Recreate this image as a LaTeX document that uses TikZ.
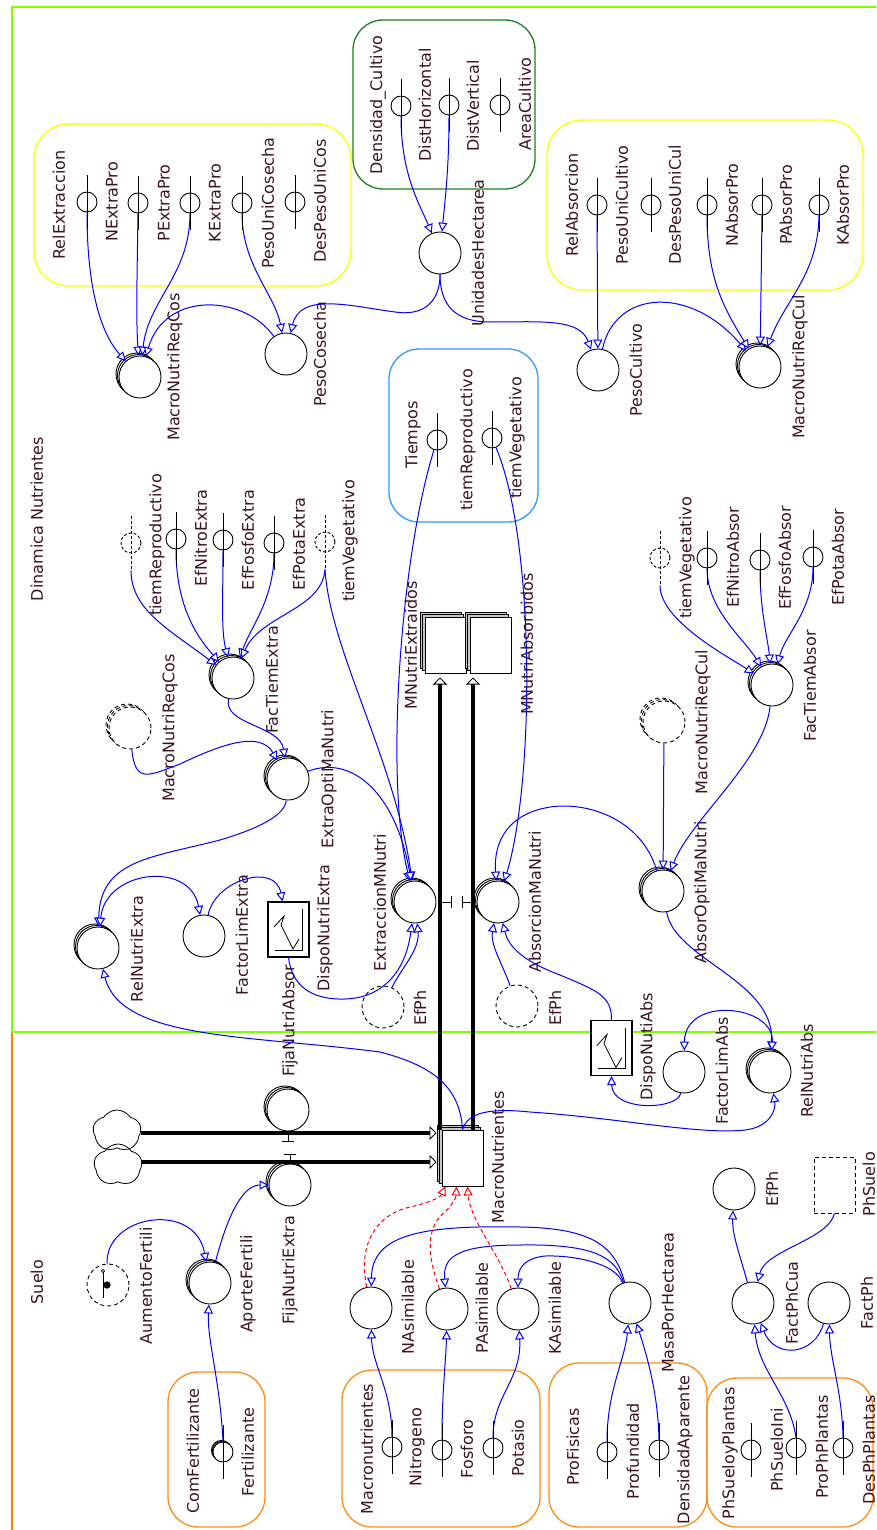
\documentclass[tikz,border=0pt]{standalone}
\usepackage{fontspec}
\setmainfont{DejaVu Sans}
\usetikzlibrary{arrows.meta,shapes.symbols,shadows,calc}

\definecolor{sectorgreen}{RGB}{128,255,0}
\definecolor{sectororange}{RGB}{255,128,0}
\definecolor{grpyellow}{RGB}{255,255,0}
\definecolor{grpgreen}{RGB}{30,130,30}
\definecolor{grpblue}{RGB}{51,153,255}
\definecolor{grporange}{RGB}{255,140,20}
\definecolor{txt}{RGB}{60,20,35}
\definecolor{linkblue}{RGB}{0,0,255}
\definecolor{initred}{RGB}{255,0,0}

\tikzset{
  lbl/.style={rotate=90, text=txt, inner sep=0pt, anchor=center},
  conv/.style={circle, draw=black, line width=0.9pt, minimum size=42pt, inner sep=0pt, fill=white},
  arrayed/.style={
    copy shadow={shadow xshift=-3pt, shadow yshift=3pt, line width=0.9pt},
    copy shadow={shadow xshift=-1.5pt, shadow yshift=1.5pt, line width=0.9pt}},
  ghost/.style={conv, dash pattern=on 4pt off 3pt},
  ghostarrayed/.style={
    copy shadow={shadow xshift=-3pt, shadow yshift=3pt, line width=0.9pt, dash pattern=on 4pt off 3pt},
    copy shadow={shadow xshift=-1.5pt, shadow yshift=1.5pt, line width=0.9pt, dash pattern=on 4pt off 3pt}},
  cnst/.style={circle, draw=black, line width=0.9pt, minimum size=20pt, inner sep=0pt, fill=white},
  gcnst/.style={cnst, dash pattern=on 3pt off 2pt},
  smallarrayed/.style={
    copy shadow={shadow xshift=-1.6pt, shadow yshift=1.6pt, line width=0.9pt},
    copy shadow={shadow xshift=-0.8pt, shadow yshift=0.8pt, line width=0.9pt}},
  stockbox/.style={draw=black, line width=1pt, fill=white, minimum width=41pt, minimum height=56pt, inner sep=0pt,
    copy shadow={shadow xshift=-5pt, shadow yshift=5pt, fill=gray!45, line width=1pt},
    copy shadow={shadow xshift=-2.5pt, shadow yshift=2.5pt, fill=gray!45, line width=1pt}},
  ghoststock/.style={draw=black, line width=1pt, dash pattern=on 4pt off 3pt, minimum width=41pt, minimum height=56pt, inner sep=0pt},
  graphconv/.style={draw=black, line width=1.2pt, fill=white, minimum width=41pt, minimum height=55pt, inner sep=0pt,
    path picture={
      \draw[line width=0.8pt] ($(path picture bounding box.north west)+(34,7)$) -- ++(0,41) -- ++(-27,0);
      \draw[line width=0.8pt] ($(path picture bounding box.north west)+(6,25)$) -- ++(10,-11) -- ++(-3,9) -- ++(12,24) -- ++(6,-10);
    }},
  cloudsym/.style={cloud, cloud puffs=5, cloud puff arc=115, aspect=1.1, draw=black, line width=0.8pt,
    minimum width=48pt, minimum height=42pt, inner sep=0pt},
  link/.style={draw=linkblue, line width=1pt, -{Triangle[length=9pt,width=9pt,fill=white]}},
  link2/.style={draw=linkblue, line width=1pt, {Triangle[length=9pt,width=9pt,fill=white]}-{Triangle[length=9pt,width=9pt,fill=white]}},
  initlink/.style={draw=initred, line width=1pt, dash pattern=on 4pt off 3pt, -{Triangle[length=9pt,width=9pt,fill=white]}},
  pipe/.style={draw=black, line width=4.5pt, -{Triangle[length=7pt,width=14pt,fill=white,line width=0.8pt]}},
  valve/.style={draw=black, line width=1pt},
  grp/.style={line width=1.3pt},
}

\begin{document}
\begin{tikzpicture}[x=1pt, y=-1pt, font=\fontsize{16}{19}\selectfont]
\useasboundingbox (0,0) rectangle (876,1530);
\fill[white] (0,0) rectangle (876,1530);

% sector frames
\begin{scope}
  \clip (0,0) rectangle (876,1530);
  \draw[sectororange, line width=1.5pt] (12,1032) rectangle (900,1580);
  \draw[sectorgreen, line width=1.5pt] (12,7) rectangle (900,1032);
\end{scope}

% group boxes
\draw[grp, grpyellow, rounded corners=35pt] (34,124) rectangle (351,286);
\draw[grp, grpgreen, rounded corners=30pt] (353,20) rectangle (535,189);
\draw[grp, grpyellow, rounded corners=35pt] (547,120) rectangle (863,290);
\draw[grp, grpblue, rounded corners=30pt] (389,349) rectangle (538,522);
\draw[grp, grporange, rounded corners=30pt] (168,1372) rectangle (265,1527);
\draw[grp, grporange, rounded corners=30pt] (342,1370) rectangle (540,1527);
\draw[grp, grporange, rounded corners=30pt] (549,1363) rectangle (707,1527);
\draw[grp, grporange, rounded corners=30pt] (707,1378) rectangle (873,1527);

% converters
\node[conv,arrayed] (MacroNutriReqCos) at (140,377) {};
\node[conv] (PesoCosecha) at (286,354) {};
\node[conv] (UnidadesHectarea) at (440,253) {};
\node[conv] (PesoCultivo) at (598,370) {};
\node[conv,arrayed] (MacroNutriReqCul) at (760,367) {};
\node[conv,arrayed] (FacTiemExtra) at (233,678) {};
\node[conv,arrayed] (ExtraOptiMaNutri) at (288,779) {};
\node[conv,arrayed] (RelNutriExtra) at (98,948) {};
\node[conv] (FactorLimExtra) at (204,936) {};
\node[conv,arrayed] (ExtraccionMNutri) at (415,902) {};
\node[conv,arrayed] (AbsorcionMaNutri) at (498,902) {};
\node[conv,arrayed] (AbsorOptiMaNutri) at (663,891) {};
\node[conv,arrayed] (FacTiemAbsor) at (772,685) {};
\node[conv] (FactorLimAbs) at (684,1072) {};
\node[conv,arrayed] (RelNutriAbs) at (770,1072) {};
\node[conv,arrayed] (FijaNutriAbsor) at (288,1110) {};
\node[conv,arrayed] (FijaNutriExtra) at (290,1185) {};
\node[conv,arrayed] (AporteFertili) at (210,1283) {};
\node[conv] (NAsimilable) at (371,1308) {};
\node[conv] (PAsimilable) at (447,1309) {};
\node[conv] (KAsimilable) at (518,1309) {};
\node[conv] (MasaPorHectarea) at (630,1303) {};
\node[conv] (FactPhCua) at (753,1303) {};
\node[conv] (FactPh) at (829,1303) {};
\node[conv] (EfPhSuelo) at (734,1189) {};

% ghost converters
\node[ghost,ghostarrayed] (gMacroNutriReqCos) at (130,728) {};
\node[ghost,ghostarrayed] (gMacroNutriReqCul) at (664,722) {};
\node[ghost] (gEfPhA) at (383,1007) {};
\node[ghost] (gEfPhB) at (517,1006) {};
\node[ghost] (gAumentoFertili) at (108,1285) {};
\draw[line width=0.9pt] ($(gAumentoFertili.center)+(-5,-13)$) -- ++(0,26);
\draw[line width=0.6pt, fill=white] ($(gAumentoFertili.center)+(-5,-14)$) circle (1.6);
\fill ($(gAumentoFertili.center)+(-1,0)$) circle (3.6pt);

% graphical converters, stocks, clouds
\node[graphconv] (DispoNutriExtra) at (288.5,929.5) {};
\node[graphconv] (DispoNutiAbs) at (611.5,1048) {};
\node[ghoststock] (PhSuelo) at (834.5,1185) {};
\node[stockbox] (MNutriExtraidos) at (445.5,645) {};
\node[stockbox] (MNutriAbsorbidos) at (490.5,645) {};
\node[stockbox] (MacroNutrientes) at (462.5,1158) {};
\node[cloudsym] (cloudA) at (117,1131) {};
\node[cloudsym] (cloudB) at (118,1165) {};

% constants
\foreach \nm/\px/\py in {NExtraPro/87/202, PExtraPro/138/203, KExtraPro/190/203,
    PesoUniCosecha/242/203, DesPesoUniCos/295/202,
    DistHorizontal/401/106, DistVertical/449/105, AreaCultivo/500/105,
    PesoUniCultivo/597/205, DesPesoUniCul/651/205, NAbsorPro/707/205, PAbsorPro/762/205, KAbsorPro/819/205,
    tiemReproductivo/437/440, tiemVegetativo/492/438,
    EfNitroExtra/176/539, EfFosfoExtra/223/540, EfPotaExtra/274/543,
    EfNitroAbsor/707/558, EfFosfoAbsor/760/560, EfPotaAbsor/813/557,
    Nitrogeno/392/1447, Fosforo/442/1450, Potasio/493/1448,
    Profundidad/607/1452, DensidadAparente/659/1450,
    PhSueloIni/751/1450, ProPhPlantas/796/1448, DesPhPlantas/843/1448}
  \node[cnst] (\nm) at (\px,\py) {};
\node[cnst,smallarrayed] (Fertilizante) at (223,1452) {};
\node[gcnst] (gtiemRepA) at (131,543) {};
\node[gcnst] (gtiemVegA) at (325,542) {};
\node[gcnst] (gtiemVegB) at (660,558) {};

% labels
\node[lbl] (tDinamica) at (37,519) {Dinamica Nutrientes};
\node[lbl] (tSuelo) at (37,1282) {Suelo};
\node[lbl] (tRelExtraccion) at (59,205) {RelExtraccion};
\node[lbl] (tNExtraPro) at (112,202) {NExtraPro};
\node[lbl] (tPExtraPro) at (164,203) {PExtraPro};
\node[lbl] (tKExtraPro) at (215,203) {KExtraPro};
\node[lbl] (tPesoUniCosecha) at (268,203) {PesoUniCosecha};
\node[lbl] (tDesPesoUniCos) at (320,201) {DesPesoUniCos};
\node[lbl] (tDensidad) at (378,105) {Densidad\_Cultivo};
\node[lbl] (tDistHorizontal) at (425,105) {DistHorizontal};
\node[lbl] (tDistVertical) at (473,106) {DistVertical};
\node[lbl] (tAreaCultivo) at (525,104) {AreaCultivo};
\node[lbl] (tUnidadesHectarea) at (478,253) {UnidadesHectarea};
\node[lbl] (tMacroNutriReqCos) at (175,367) {MacroNutriReqCos};
\node[lbl] (tPesoCosecha) at (320,354) {PesoCosecha};
\node[lbl] (tRelAbsorcion) at (572,205) {RelAbsorcion};
\node[lbl] (tPesoUniCultivo) at (622,205) {PesoUniCultivo};
\node[lbl] (tDesPesoUniCul) at (675,205) {DesPesoUniCul};
\node[lbl] (tNAbsorPro) at (732,205) {NAbsorPro};
\node[lbl] (tPAbsorPro) at (786,205) {PAbsorPro};
\node[lbl] (tKAbsorPro) at (843,205) {KAbsorPro};
\node[lbl] (tPesoCultivo) at (636,370) {PesoCultivo};
\node[lbl] (tMacroNutriReqCul) at (800,367) {MacroNutriReqCul};
\node[lbl] (tTiempos) at (413,435) {Tiempos};
\node[lbl] (ttiemReproductivo) at (468,440) {tiemReproductivo};
\node[lbl] (ttiemVegetativo) at (517,438) {tiemVegetativo};
\node[lbl] (ttiemRepA) at (157,545) {tiemReproductivo};
\node[lbl] (tEfNitroExtra) at (201,538) {EfNitroExtra};
\node[lbl] (tEfFosfoExtra) at (248,540) {EfFosfoExtra};
\node[lbl] (tEfPotaExtra) at (299,544) {EfPotaExtra};
\node[lbl] (ttiemVegA) at (350,541) {tiemVegetativo};
\node[lbl] (tFacTiemExtra) at (272,680) {FacTiemExtra};
\node[lbl] (tgMacroNutriReqCos) at (170,728) {MacroNutriReqCos};
\node[lbl] (tExtraOptiMaNutri) at (329,779) {ExtraOptiMaNutri};
\node[lbl] (tMNutriExtraidos) at (411,645) {MNutriExtraidos};
\node[lbl] (tMNutriAbsorbidos) at (527,644) {MNutriAbsorbidos};
\node[lbl] (ttiemVegB) at (687,558) {tiemVegetativo};
\node[lbl] (tEfNitroAbsor) at (733,557) {EfNitroAbsor};
\node[lbl] (tEfFosfoAbsor) at (785,558) {EfFosfoAbsor};
\node[lbl] (tEfPotaAbsor) at (838,557) {EfPotaAbsor};
\node[lbl] (tFacTiemAbsor) at (810,686) {FacTiemAbsor};
\node[lbl] (tgMacroNutriReqCul) at (703,722) {MacroNutriReqCul};
\node[lbl] (tAbsorOptiMaNutri) at (702,892) {AbsorOptiMaNutri};
\node[lbl] (tRelNutriExtra) at (137,949) {RelNutriExtra};
\node[lbl] (tFactorLimExtra) at (242,935) {FactorLimExtra};
\node[lbl] (tDispoNutriExtra) at (325,928) {DispoNutriExtra};
\node[lbl] (tExtraccionMNutri) at (380,903) {ExtraccionMNutri};
\node[lbl] (tEfPhA) at (420,1008) {EfPh};
\node[lbl] (tAbsorcionMaNutri) at (535,902) {AbsorcionMaNutri};
\node[lbl] (tEfPhB) at (555,1008) {EfPh};
\node[lbl] (tDispoNutiAbs) at (648,1047) {DispoNutiAbs};
\node[lbl] (tFactorLimAbs) at (722,1071) {FactorLimAbs};
\node[lbl] (tRelNutriAbs) at (807,1071) {RelNutriAbs};
\node[lbl] (tFijaNutriAbsor) at (290,1021) {FijaNutriAbsor};
\node[lbl] (tFijaNutriExtra) at (290,1270) {FijaNutriExtra};
\node[lbl] (tMacroNutrientes) at (498,1157) {MacroNutrientes};
\node[lbl] (tAumentoFertili) at (146,1286) {AumentoFertili};
\node[lbl] (tAporteFertili) at (248,1284) {AporteFertili};
\node[lbl] (tComFertilizante) at (193,1451) {ComFertilizante};
\node[lbl] (tFertilizante) at (248,1452) {Fertilizante};
\node[lbl] (tNAsimilable) at (408,1307) {NAsimilable};
\node[lbl] (tPAsimilable) at (482,1308) {PAsimilable};
\node[lbl] (tKAsimilable) at (555,1308) {KAsimilable};
\node[lbl] (tMasaPorHectarea) at (668,1303) {MasaPorHectarea};
\node[lbl] (tMacronutrientes) at (367,1449) {Macronutrientes};
\node[lbl] (tNitrogeno) at (417,1447) {Nitrogeno};
\node[lbl] (tFosforo) at (467,1449) {Fosforo};
\node[lbl] (tPotasio) at (518,1448) {Potasio};
\node[lbl] (tProFisicas) at (573,1447) {ProFisicas};
\node[lbl] (tProfundidad) at (633,1451) {Profundidad};
\node[lbl] (tDensidadAparente) at (685,1450) {DensidadAparente};
\node[lbl] (tPhSueloyPlantas) at (730,1453) {PhSueloyPlantas};
\node[lbl] (tPhSueloIni) at (777,1450) {PhSueloIni};
\node[lbl] (tProPhPlantas) at (822,1447) {ProPhPlantas};
\node[lbl] (tDesPhPlantas) at (869,1450) {DesPhPlantas};
\node[lbl] (tEfPhSuelo) at (772,1189) {EfPh};
\node[lbl] (tPhSuelo) at (869,1184) {PhSuelo};
\node[lbl] (tFactPhCua) at (792,1303) {FactPhCua};
\node[lbl] (tFactPh) at (867,1303) {FactPh};

% flow pipes and valves
\coordinate (pipeA) at (440,0);
\coordinate (pipeB) at (473,0);
\draw[pipe, shorten >=4pt] (MacroNutrientes.north -| pipeA) -- (MNutriExtraidos.south -| pipeA);
\draw[pipe, shorten >=4pt] (MacroNutrientes.north -| pipeB) -- (MNutriAbsorbidos.south -| pipeB);
\draw[pipe, shorten >=5pt] (cloudA.east |- 0,1133) -- (MacroNutrientes.west |- 0,1133);
\draw[pipe, shorten >=5pt] (cloudB.east |- 0,1162) -- (MacroNutrientes.west |- 0,1162);
\draw[valve] (ExtraccionMNutri.east -| pipeA) -- ++(11,0) ++(0,-6) -- ++(0,12);
\draw[valve] (AbsorcionMaNutri.west -| pipeB) -- ++(-11,0) ++(0,-6) -- ++(0,12);
\draw[valve] (FijaNutriAbsor.south |- 0,1133) -- ++(0,8) ++(-6,0) -- ++(12,0);
\draw[valve] (FijaNutriExtra.north |- 0,1162) -- ++(0,-8) ++(-6,0) -- ++(12,0);

% harvest and crop requirements
\draw[link] (NExtraPro.south) .. controls (87,300) and (105,338) .. (MacroNutriReqCos);
\draw[link] (PExtraPro.south) .. controls (137,280) and (136,320) .. (MacroNutriReqCos);
\draw[link] (KExtraPro.south) .. controls (190,275) and (148,300) .. (MacroNutriReqCos);
\draw[link] (PesoCosecha) .. controls (245,295) and (165,290) .. (MacroNutriReqCos);
\draw[link] (PesoUniCosecha.south) .. controls (242,265) and (275,295) .. (PesoCosecha);
\draw[link] (UnidadesHectarea.south) .. controls (440,305) and (420,316) .. (395,312) .. controls (350,306) and (300,292) .. (PesoCosecha);
\draw[link] (UnidadesHectarea.south) .. controls (440,305) and (455,322) .. (490,322) .. controls (540,322) and (580,318) .. (PesoCultivo);
\draw[link] (DistHorizontal.south) .. controls (401,175) and (420,205) .. (UnidadesHectarea);
\draw[link] (DistVertical.south) .. controls (449,170) and (445,200) .. (UnidadesHectarea);
\draw[link] (PesoUniCultivo.south) -- (PesoCultivo);
\draw[link] (PesoCultivo) .. controls (615,290) and (690,285) .. (MacroNutriReqCul);
\draw[link] (NAbsorPro.south) .. controls (707,280) and (725,310) .. (MacroNutriReqCul);
\draw[link] (PAbsorPro.south) -- (MacroNutriReqCul);
\draw[link] (KAbsorPro.south) .. controls (818,275) and (785,300) .. (MacroNutriReqCul);

% time phases
\draw[link] (tiemReproductivo) .. controls (400,560) and (385,780) .. (ExtraccionMNutri);
\draw[link] (tiemVegetativo) .. controls (535,540) and (535,780) .. (AbsorcionMaNutri);

% extraction side
\draw[link] ([yshift=-17pt]gtiemRepA.south) .. controls (131,610) and (170,630) .. (FacTiemExtra);
\draw[link] (EfNitroExtra.south) .. controls (176,610) and (200,640) .. (FacTiemExtra);
\draw[link] (EfFosfoExtra.south) .. controls (223,600) and (221,630) .. (FacTiemExtra);
\draw[link] (EfPotaExtra.south) .. controls (274,600) and (250,628) .. (FacTiemExtra);
\draw[link] ([yshift=-17pt]gtiemVegA.south) .. controls (322,610) and (260,615) .. (FacTiemExtra);
\draw[link] ([yshift=-17pt]gtiemVegA.south) .. controls (330,650) and (395,760) .. (ExtraccionMNutri);
\draw[link] (gMacroNutriReqCos) .. controls (135,785) and (150,775) .. (180,764) .. controls (220,745) and (260,730) .. (ExtraOptiMaNutri);
\draw[link] (FacTiemExtra) .. controls (223,725) and (280,725) .. (ExtraOptiMaNutri);
\draw[link] (ExtraOptiMaNutri) .. controls (350,755) and (395,790) .. (ExtraccionMNutri);
\draw[link] (ExtraOptiMaNutri) .. controls (285,815) and (260,828) .. (220,840) .. controls (150,858) and (100,860) .. (RelNutriExtra);
\draw[link2] (RelNutriExtra) .. controls (105,870) and (190,860) .. (FactorLimExtra);
\draw[link] (FactorLimExtra) .. controls (215,880) and (275,862) .. ([xshift=-6pt]DispoNutriExtra.north);
\draw[link] (DispoNutriExtra.south) .. controls (292,985) and (310,1000) .. (345,999) .. controls (380,998) and (405,975) .. (ExtraccionMNutri);
\draw[link] (gEfPhA) .. controls (400,970) and (420,950) .. (ExtraccionMNutri);
\draw[link] (MacroNutrientes.north) .. controls (460,1085) and (430,1065) .. (380,1052) .. controls (250,1035) and (120,1040) .. (RelNutriExtra);

% absorption side
\draw[link] (MacroNutrientes.north) .. controls (468,1112) and (490,1108) .. (530,1112) .. controls (620,1118) and (700,1135) .. (745,1130) .. controls (770,1127) and (776,1110) .. (RelNutriAbs);
\draw[link] (AbsorOptiMaNutri) .. controls (640,815) and (580,800) .. (545,808) .. controls (510,815) and (493,840) .. (AbsorcionMaNutri);
\draw[link] (gMacroNutriReqCul) -- (AbsorOptiMaNutri);
\draw[link] (FacTiemAbsor) .. controls (765,760) and (690,820) .. (AbsorOptiMaNutri);
\draw[link] (AbsorOptiMaNutri) .. controls (675,960) and (775,980) .. (RelNutriAbs);
\draw[link2] (RelNutriAbs) .. controls (775,1005) and (685,995) .. (FactorLimAbs);
\draw[link] (FactorLimAbs) .. controls (678,1110) and (612,1112) .. (DispoNutiAbs.south);
\draw[link] (DispoNutiAbs.north) .. controls (612,995) and (595,990) .. (560,975) .. controls (520,960) and (508,945) .. (AbsorcionMaNutri);
\draw[link] (gEfPhB) .. controls (503,965) and (490,945) .. (AbsorcionMaNutri);
\draw[link] ([yshift=-17pt]gtiemVegB.south) .. controls (660,620) and (725,655) .. (FacTiemAbsor);
\draw[link] (EfNitroAbsor.south) .. controls (707,610) and (745,640) .. (FacTiemAbsor);
\draw[link] (EfFosfoAbsor.south) .. controls (760,610) and (768,640) .. (FacTiemAbsor);
\draw[link] (EfPotaAbsor.south) .. controls (813,610) and (785,635) .. (FacTiemAbsor);

% soil sector
\draw[link] (gAumentoFertili) .. controls (105,1215) and (195,1200) .. (AporteFertili);
\draw[link] (AporteFertili) .. controls (225,1225) and (240,1185) .. (FijaNutriExtra);
\draw[link] (Fertilizante.north) .. controls (220,1380) and (207,1340) .. (AporteFertili);
\draw[link] (Nitrogeno.north) .. controls (392,1390) and (372,1365) .. (NAsimilable);
\draw[link] (Fosforo.north) .. controls (442,1390) and (446,1360) .. (PAsimilable);
\draw[link] (Potasio.north) .. controls (493,1395) and (522,1380) .. (KAsimilable);
\draw[link] (MasaPorHectarea) .. controls (615,1245) and (590,1228) .. (520,1227) .. controls (420,1225) and (372,1235) .. (NAsimilable);
\draw[link] (MasaPorHectarea) .. controls (615,1255) and (590,1244) .. (520,1245) .. controls (455,1245) and (443,1258) .. (PAsimilable);
\draw[link] (MasaPorHectarea) .. controls (615,1262) and (570,1255) .. (545,1256) .. controls (525,1258) and (518,1268) .. (KAsimilable);
\draw[initlink] (NAsimilable) .. controls (358,1245) and (375,1215) .. (410,1207) .. controls (428,1203) and (440,1198) .. ([xshift=-17pt]MacroNutrientes.south);
\draw[initlink] (PAsimilable) .. controls (425,1250) and (428,1225) .. (445,1212) .. controls (452,1205) and (456,1198) .. ([xshift=-6pt]MacroNutrientes.south);
\draw[initlink] (KAsimilable) .. controls (500,1255) and (470,1220) .. ([xshift=5pt]MacroNutrientes.south);
\draw[link] (Profundidad.north) .. controls (607,1390) and (625,1360) .. (MasaPorHectarea);
\draw[link] (DensidadAparente.north) .. controls (658,1390) and (645,1350) .. (MasaPorHectarea);
\draw[link] (FactPhCua) .. controls (740,1255) and (732,1235) .. (EfPhSuelo);
\draw[link] (PhSuelo.south) .. controls (828,1240) and (765,1250) .. (FactPhCua);
\draw[link] (ProPhPlantas.north) .. controls (790,1395) and (758,1370) .. (FactPhCua);
\draw[link] (DesPhPlantas.north) .. controls (842,1390) and (830,1360) .. (FactPh);
\draw[link] (FactPh) .. controls (815,1355) and (775,1360) .. (FactPhCua);

% bars through the constants
\foreach \nm in {NExtraPro, PExtraPro, KExtraPro, PesoUniCosecha, DesPesoUniCos,
    DistHorizontal, DistVertical, AreaCultivo,
    PesoUniCultivo, DesPesoUniCul, NAbsorPro, PAbsorPro, KAbsorPro,
    tiemReproductivo, tiemVegetativo, EfNitroExtra, EfFosfoExtra, EfPotaExtra,
    EfNitroAbsor, EfFosfoAbsor, EfPotaAbsor, Fertilizante,
    Nitrogeno, Fosforo, Potasio, Profundidad, DensidadAparente,
    PhSueloIni, ProPhPlantas, DesPhPlantas}
  \draw[line width=0.9pt] ([yshift=27pt]\nm.center) -- ([yshift=-27pt]\nm.center);
\foreach \nm in {gtiemRepA, gtiemVegA, gtiemVegB}
  \draw[line width=0.9pt, dash pattern=on 3pt off 2pt] ([yshift=27pt]\nm.center) -- ([yshift=-27pt]\nm.center);
\end{tikzpicture}
\end{document}
